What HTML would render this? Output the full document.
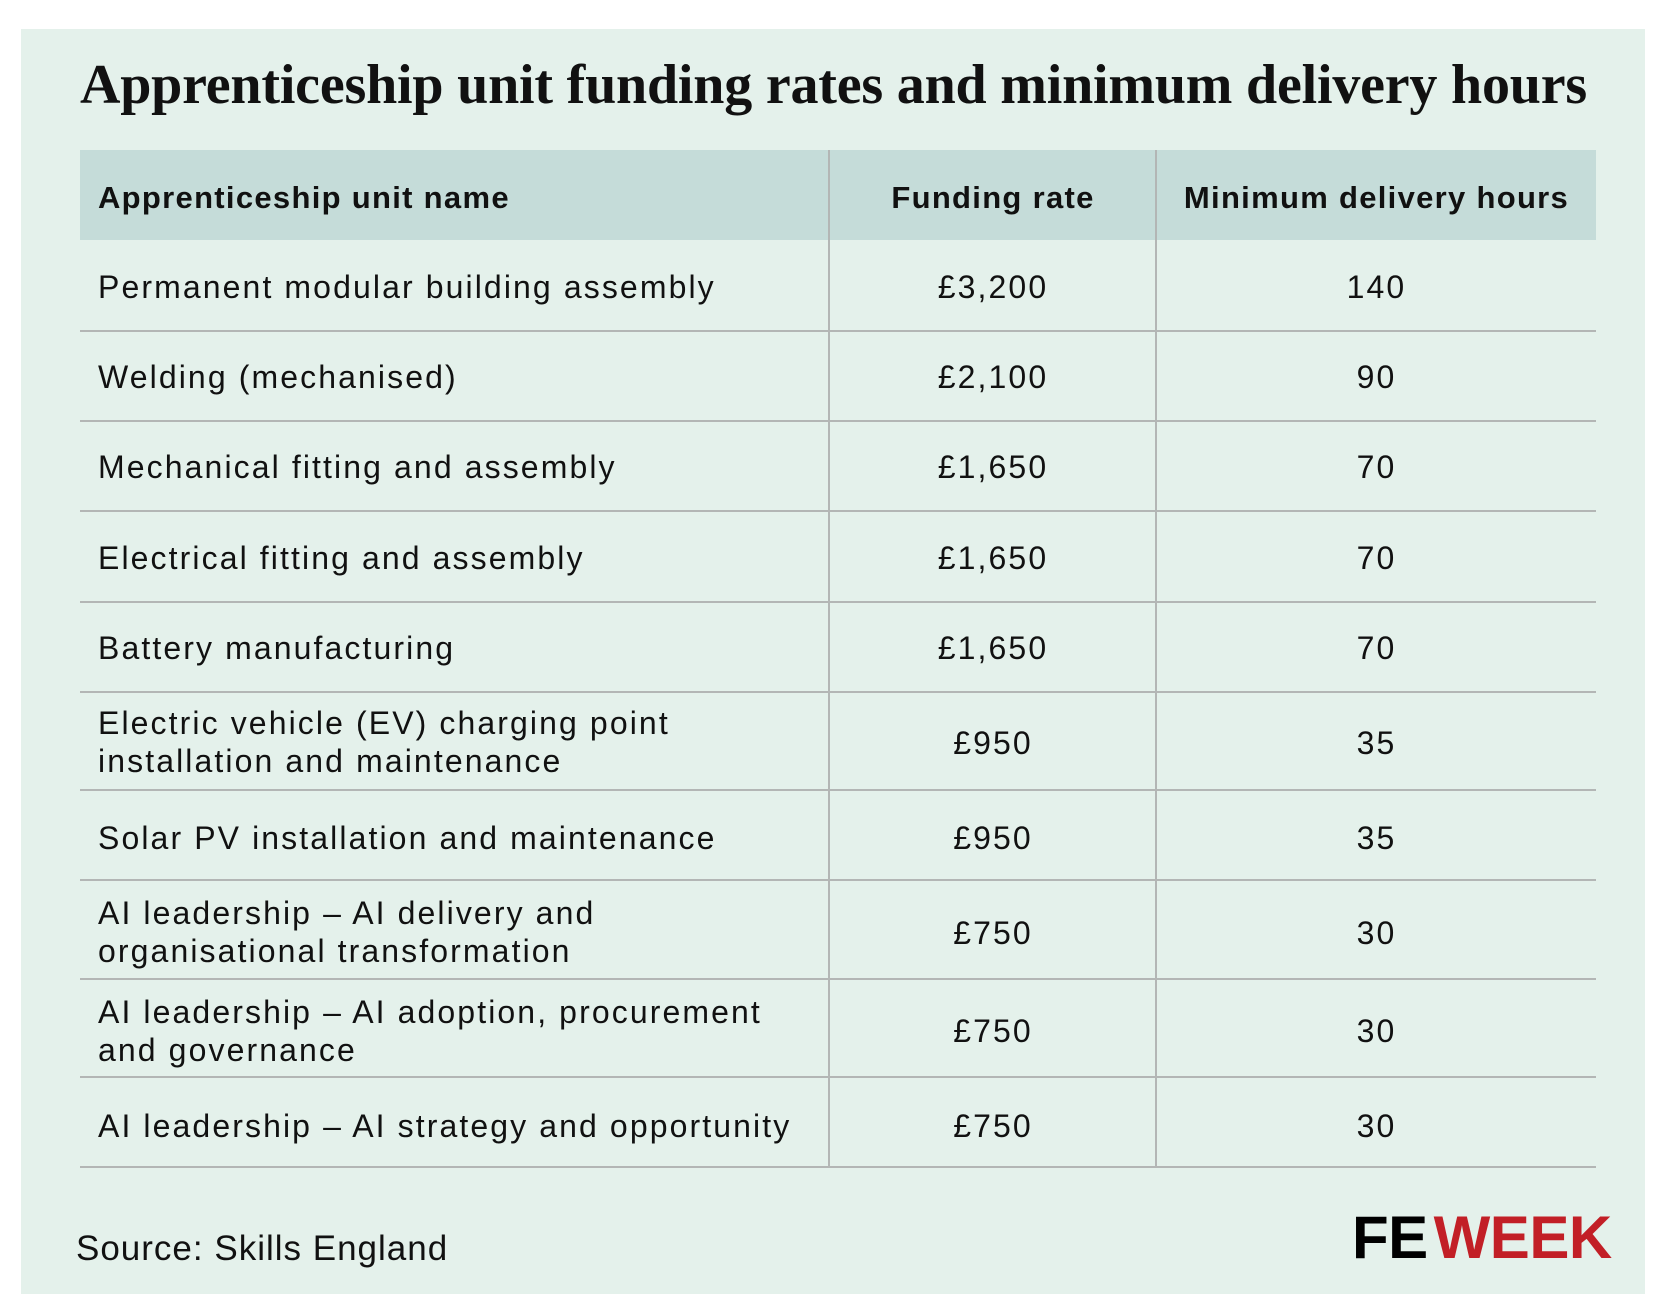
<!DOCTYPE html>
<html><head><meta charset="utf-8"><style>
*{margin:0;padding:0;box-sizing:border-box}
body{width:1667px;height:1313px;background:#fff;position:relative;font-family:"Liberation Sans",sans-serif;color:#111}
#panel{position:absolute;left:21px;top:29px;width:1624px;height:1265px;background:#e4f1eb}
.t{position:absolute;white-space:nowrap}
h1{position:absolute;left:80px;top:53px;font-family:"Liberation Serif",serif;font-weight:bold;font-size:56px;letter-spacing:-0.2px;white-space:nowrap;color:#111}
.hdr{position:absolute;left:80px;top:150px;width:1516px;height:90px;background:#c5dcd9}
.hl{position:absolute;left:80px;width:1516px;height:2px;background:#b3b6b5}
.vl{position:absolute;top:150px;width:2px;height:1018px;background:#b3b6b5}
.c{font-size:32px;letter-spacing:2.1px;line-height:38px}
.h{font-size:31px;font-weight:bold;letter-spacing:1.3px}
.m{text-align:center}
</style></head><body>
<div id="panel"></div>
<h1>Apprenticeship unit funding rates and minimum delivery hours</h1>
<div class="hdr"></div>
<div class="vl" style="left:828px"></div>
<div class="vl" style="left:1155px"></div>
<div class="t h" style="left:98px;top:180px">Apprenticeship unit name</div>
<div class="t h m" style="left:830px;width:326px;top:180px">Funding rate</div>
<div class="t h m" style="left:1157px;width:439px;top:180px">Minimum delivery hours</div>

<div class="hl" style="top:330px"></div>
<div class="hl" style="top:420px"></div>
<div class="hl" style="top:510px"></div>
<div class="hl" style="top:601px"></div>
<div class="hl" style="top:691px"></div>
<div class="hl" style="top:789px"></div>
<div class="hl" style="top:879px"></div>
<div class="hl" style="top:978px"></div>
<div class="hl" style="top:1076px"></div>
<div class="hl" style="top:1166px"></div>

<div class="t c" style="left:98px;top:268px">Permanent modular building assembly</div>
<div class="t c m" style="left:830px;width:326px;top:268px">£3,200</div>
<div class="t c m" style="left:1157px;width:439px;top:268px">140</div>

<div class="t c" style="left:98px;top:358px">Welding (mechanised)</div>
<div class="t c m" style="left:830px;width:326px;top:358px">£2,100</div>
<div class="t c m" style="left:1157px;width:439px;top:358px">90</div>

<div class="t c" style="left:98px;top:448px">Mechanical fitting and assembly</div>
<div class="t c m" style="left:830px;width:326px;top:448px">£1,650</div>
<div class="t c m" style="left:1157px;width:439px;top:448px">70</div>

<div class="t c" style="left:98px;top:539px">Electrical fitting and assembly</div>
<div class="t c m" style="left:830px;width:326px;top:539px">£1,650</div>
<div class="t c m" style="left:1157px;width:439px;top:539px">70</div>

<div class="t c" style="left:98px;top:629px">Battery manufacturing</div>
<div class="t c m" style="left:830px;width:326px;top:629px">£1,650</div>
<div class="t c m" style="left:1157px;width:439px;top:629px">70</div>

<div class="t c" style="left:98px;top:704px">Electric vehicle (EV) charging point<br>installation and maintenance</div>
<div class="t c m" style="left:830px;width:326px;top:724px">£950</div>
<div class="t c m" style="left:1157px;width:439px;top:724px">35</div>

<div class="t c" style="left:98px;top:819px">Solar PV installation and maintenance</div>
<div class="t c m" style="left:830px;width:326px;top:819px">£950</div>
<div class="t c m" style="left:1157px;width:439px;top:819px">35</div>

<div class="t c" style="left:98px;top:894px">AI leadership – AI delivery and<br>organisational transformation</div>
<div class="t c m" style="left:830px;width:326px;top:914px">£750</div>
<div class="t c m" style="left:1157px;width:439px;top:914px">30</div>

<div class="t c" style="left:98px;top:993px">AI leadership – AI adoption, procurement<br>and governance</div>
<div class="t c m" style="left:830px;width:326px;top:1012px">£750</div>
<div class="t c m" style="left:1157px;width:439px;top:1012px">30</div>

<div class="t c" style="left:98px;top:1107px">AI leadership – AI strategy and opportunity</div>
<div class="t c m" style="left:830px;width:326px;top:1107px">£750</div>
<div class="t c m" style="left:1157px;width:439px;top:1107px">30</div>

<div class="t" style="left:76px;top:1229px;font-size:35px;letter-spacing:1px">Source: Skills England</div>
<div class="t" style="left:1352px;top:1206px;font-size:60px;font-weight:bold;letter-spacing:-0.5px;line-height:64px"><span style="color:#000">FE</span><span style="color:#c21f26;margin-left:6px">WEEK</span></div>
</body></html>
